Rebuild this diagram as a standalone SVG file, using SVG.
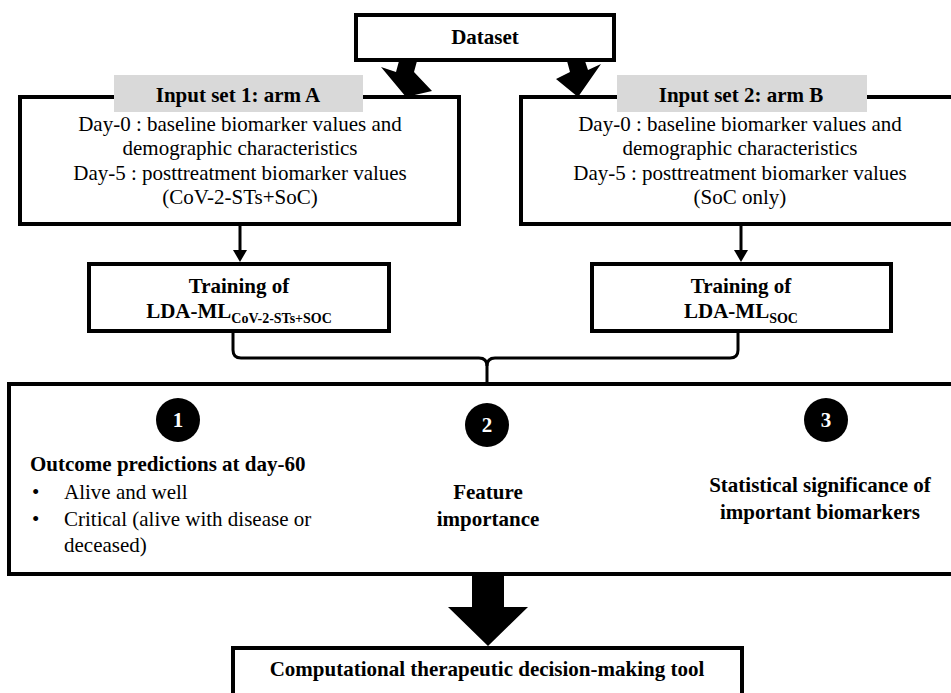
<svg xmlns="http://www.w3.org/2000/svg" width="951" height="693" viewBox="0 0 951 693" font-family="'Liberation Serif', 'DejaVu Serif', serif">
<style>
.box{fill:#fff;stroke:#000;stroke-width:4}
.lbl{fill:#d9d9d9}
text{font-family:'Liberation Serif','DejaVu Serif',serif}
.t{font-size:21px;fill:#000}
.b{font-weight:bold}
.m{text-anchor:middle}
.num{font-size:21px;font-weight:bold;fill:#fff;text-anchor:middle}
.ln{fill:none;stroke:#000;stroke-width:3}
</style>
<rect width="951" height="693" fill="#fff"/>
<g id="dataset">
<rect class="box" x="356" y="15" width="258" height="45"/>
<text class="t b m" x="485" y="44">Dataset</text>
</g>
<g id="input1">
<rect class="box" x="20" y="97" width="439" height="127"/>
<rect class="lbl" x="114" y="75" width="249" height="37"/>
<text class="t b m" x="238" y="102">Input set 1: arm A</text>
<text class="t m" x="240" y="131">Day-0 : baseline biomarker values and</text>
<text class="t m" x="240" y="155">demographic characteristics</text>
<text class="t m" x="240" y="180">Day-5 : posttreatment biomarker values</text>
<text class="t m" x="240" y="204">(CoV-2-STs+SoC)</text>
</g>
<g id="input2">
<rect class="box" x="521" y="97" width="440" height="127"/>
<rect class="lbl" x="617" y="75" width="250" height="37"/>
<text class="t b m" x="741" y="102">Input set 2: arm B</text>
<text class="t m" x="740" y="131">Day-0 : baseline biomarker values and</text>
<text class="t m" x="740" y="155">demographic characteristics</text>
<text class="t m" x="740" y="180">Day-5 : posttreatment biomarker values</text>
<text class="t m" x="740" y="204">(SoC only)</text>
</g>
<g id="train1">
<rect class="box" x="89" y="264" width="300" height="67"/>
<text class="t b m" x="239" y="293">Training of</text>
<text class="t b m" x="239" y="318">LDA-ML<tspan font-size="14" dy="5">CoV-2-STs+SOC</tspan></text>
</g>
<g id="train2">
<rect class="box" x="592" y="264" width="299" height="67"/>
<text class="t b m" x="741" y="293">Training of</text>
<text class="t b m" x="741" y="318">LDA-ML<tspan font-size="14" dy="5">SOC</tspan></text>
</g>
<g id="results">
<rect class="box" x="9" y="384" width="955" height="190"/>
<circle cx="178" cy="420" r="22" fill="#000"/>
<text class="num" x="178" y="427">1</text>
<circle cx="487" cy="425" r="22" fill="#000"/>
<text class="num" x="487" y="432">2</text>
<circle cx="826" cy="420" r="22" fill="#000"/>
<text class="num" x="826" y="427">3</text>
<text class="t b" x="30" y="471">Outcome predictions at day-60</text>
<text class="t" x="32" y="499">•</text>
<text class="t" x="64" y="499">Alive and well</text>
<text class="t" x="32" y="526">•</text>
<text class="t" x="64" y="526">Critical (alive with disease or</text>
<text class="t" x="64" y="552">deceased)</text>
<text class="t b m" x="488" y="499">Feature</text>
<text class="t b m" x="488" y="526">importance</text>
<text class="t b m" x="820" y="492">Statistical significance of</text>
<text class="t b m" x="820" y="519">important biomarkers</text>
</g>
<g id="tool">
<rect class="box" x="233" y="648" width="509" height="60"/>
<text class="t b m" x="487" y="676">Computational therapeutic decision-making tool</text>
</g>
<g id="connectors">
<polygon points="399,61 417,61 414,72 432,91 406,97 381,67 396,72" fill="#000"/>
<polygon points="567,61 585,61 588,70 601,64 578,97 556,79 570,72" fill="#000"/>
<line class="ln" x1="240" y1="226" x2="240" y2="252"/>
<polygon points="233,250 247,250 240,262" fill="#000"/>
<line class="ln" x1="741" y1="226" x2="741" y2="252"/>
<polygon points="734,250 748,250 741,262" fill="#000"/>
<path class="ln" d="M233,333 V350 Q233,358 241,358 H479 Q487,358 487,366 V383"/>
<path class="ln" d="M738,333 V350 Q738,358 730,358 H495 Q487,358 487,366"/>
<polygon points="472,576 504,576 504,607 528,607 488,646 448,607 472,607" fill="#000"/>
</g>
</svg>
